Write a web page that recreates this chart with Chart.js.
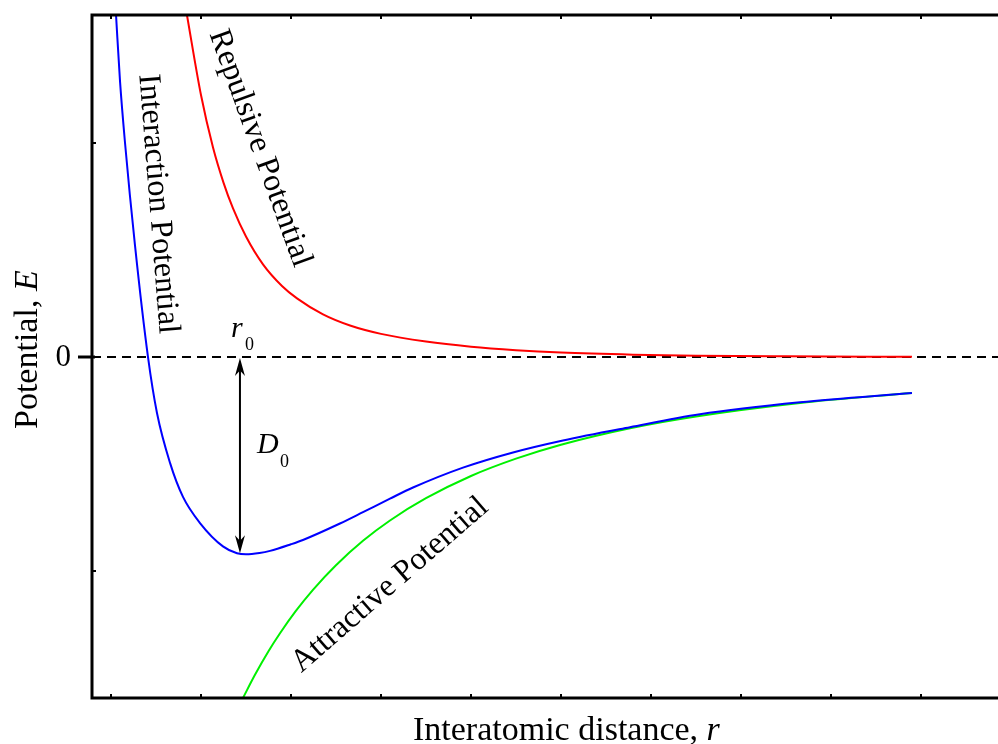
<!DOCTYPE html>
<html>
<head>
<meta charset="utf-8">
<title>Interatomic potential</title>
<script src="https://cdn.jsdelivr.net/npm/chart.js@4"></script>
<style>
  body { margin: 0; background: #fff; overflow: hidden; }
  #wrap { width: 998px; height: 744px; }
</style>
</head>
<body>
<div id="wrap"><canvas id="potentialChart"></canvas></div>
<script>
// distance r (tick units) and potential E (tick units)
const interactionR = [0.056, 0.1, 0.156, 0.267, 0.411, 0.511, 0.656, 0.8, 0.989, 1.244, 1.4, 1.5, 1.65, 1.767, 2.0, 2.133, 2.544, 2.8, 3.1, 3.356, 3.911, 4.467, 5.022, 5.767, 6.544, 7.656, 8.9];
const interactionE = [1.598, 1.29, 1.0, 0.52, 0, -0.262, -0.495, -0.654, -0.776, -0.885, -0.917, -0.922, -0.916, -0.906, -0.875, -0.855, -0.778, -0.725, -0.662, -0.61, -0.517, -0.446, -0.39, -0.328, -0.268, -0.212, -0.168];

const repulsiveR = [0.844, 1.0, 1.133, 1.25, 1.356, 1.5, 1.689, 1.9, 2.067, 2.356, 2.656, 3.0, 3.5, 4.0, 4.5, 5.0, 5.8, 6.5, 7.5, 8.9];
const repulsiveE = [1.598, 1.224, 0.98, 0.815, 0.694, 0.563, 0.433, 0.332, 0.274, 0.199, 0.147, 0.108, 0.072, 0.048, 0.032, 0.021, 0.011, 0.006, 0.003, 0.001];

const attractiveR = [1.467, 1.6, 1.75, 1.878, 2.05, 2.244, 2.5, 2.8, 3.1, 3.5, 4.0, 4.5, 5.0, 5.767, 6.5, 7.656, 8.9];
const attractiveE = [-1.593, -1.485, -1.375, -1.291, -1.189, -1.088, -0.973, -0.859, -0.764, -0.66, -0.556, -0.475, -0.41, -0.333, -0.278, -0.215, -0.168];

const zeroR = [-0.211, 9.856];
const zeroE = [0, 0];

const xTicks = [0, 1, 2, 3, 4, 5, 6, 7, 8, 9];
const yTicks = [-1, 0, 1];
const yTickLabels = ['', '0', ''];

// equilibrium spacing r0 where the D0 arrow sits
const r0 = 1.433;

const SERIF = '"Liberation Serif", "Times New Roman", serif';

function pts(xs, ys) {
  return xs.map((x, i) => ({ x: x, y: ys[i] }));
}

function arrowHead(ctx, x, y, dir) {
  // dir = 1 points down, -1 points up; tip at (x, y)
  const len = 18, half = 5;
  ctx.beginPath();
  ctx.moveTo(x, y);
  ctx.lineTo(x - half, y - dir * len);
  ctx.lineTo(x, y - dir * len * 0.7);
  ctx.lineTo(x + half, y - dir * len);
  ctx.closePath();
  ctx.fill();
}

const curveLabels = [
  { text: 'Interaction Potential', x: 0.522, y: 0.715, angle: 85.5 },
  { text: 'Repulsive Potential', x: 1.655, y: 0.975, angle: 70 },
  { text: 'Attractive Potential', x: 3.1, y: -1.065, angle: -41 }
];

const decorations = {
  id: 'decorations',
  afterDatasetsDraw(chart) {
    const ctx = chart.ctx;
    const xs = chart.scales.x, ys = chart.scales.y;
    const a = chart.chartArea;
    ctx.save();
    ctx.fillStyle = '#000';
    ctx.strokeStyle = '#000';

    // frame (right side falls outside the picture)
    ctx.lineWidth = 3;
    ctx.beginPath();
    ctx.moveTo(a.right + 2, a.top);
    ctx.lineTo(a.left, a.top);
    ctx.lineTo(a.left, a.bottom);
    ctx.lineTo(a.right + 2, a.bottom);
    ctx.stroke();

    // inside ticks
    ctx.lineWidth = 2;
    xTicks.forEach(t => {
      const px = Math.round(xs.getPixelForValue(t));
      ctx.beginPath();
      ctx.moveTo(px, a.bottom); ctx.lineTo(px, a.bottom - 4);
      ctx.moveTo(px, a.top); ctx.lineTo(px, a.top + 4);
      ctx.stroke();
    });
    yTicks.forEach((t, i) => {
      const py = Math.round(ys.getPixelForValue(t));
      ctx.beginPath();
      if (yTickLabels[i]) {
        ctx.lineWidth = 3;
        ctx.moveTo(a.left - 14, py); ctx.lineTo(a.left + 3, py);
      } else {
        ctx.lineWidth = 2;
        ctx.moveTo(a.left, py); ctx.lineTo(a.left + 4, py);
      }
      ctx.stroke();
      if (yTickLabels[i]) {
        ctx.font = '31px ' + SERIF;
        ctx.textAlign = 'right';
        ctx.textBaseline = 'middle';
        ctx.fillText(yTickLabels[i], a.left - 21, py + 1);
      }
    });

    // D0 arrow from E = 0 down to the bottom of the well
    const well = Math.min(...interactionE);
    const ax = xs.getPixelForValue(r0);
    const yTop = ys.getPixelForValue(0);
    const yBot = ys.getPixelForValue(well);
    ctx.lineWidth = 2;
    ctx.beginPath();
    ctx.moveTo(ax, yTop + 6); ctx.lineTo(ax, yBot - 6);
    ctx.stroke();
    arrowHead(ctx, ax, yTop + 1, -1);
    arrowHead(ctx, ax, yBot - 1, 1);

    // r0 and D0 labels
    ctx.textAlign = 'left';
    ctx.textBaseline = 'alphabetic';
    ctx.font = 'italic 30px ' + SERIF;
    ctx.fillText('r', ax - 9, yTop - 20);
    ctx.font = '18px ' + SERIF;
    ctx.fillText('0', ax + 5, yTop - 7);
    ctx.font = 'italic 30px ' + SERIF;
    ctx.fillText('D', ax + 17, yTop + 96);
    ctx.font = '18px ' + SERIF;
    ctx.fillText('0', ax + 40, yTop + 110);

    // curve labels
    ctx.font = '32px ' + SERIF;
    ctx.textAlign = 'center';
    ctx.textBaseline = 'middle';
    curveLabels.forEach(l => {
      ctx.save();
      ctx.translate(xs.getPixelForValue(l.x), ys.getPixelForValue(l.y));
      ctx.rotate(l.angle * Math.PI / 180);
      ctx.fillText(l.text, 0, 0);
      ctx.restore();
    });

    // axis titles with italic symbols
    ctx.textAlign = 'left';
    ctx.textBaseline = 'alphabetic';
    ctx.font = '34px ' + SERIF;
    const xt = 'Interatomic distance, ';
    ctx.fillText(xt, 413, 740);
    const w = ctx.measureText(xt).width;
    ctx.font = 'italic 34px ' + SERIF;
    ctx.fillText('r', 413 + w, 740);

    ctx.save();
    ctx.translate(37, 429);
    ctx.rotate(-Math.PI / 2);
    ctx.font = '34px ' + SERIF;
    const yt = 'Potential, ';
    ctx.fillText(yt, 0, 0);
    const w2 = ctx.measureText(yt).width;
    ctx.font = 'italic 34px ' + SERIF;
    ctx.fillText('E', w2, 0);
    ctx.restore();

    ctx.restore();
  }
};

const line = (data, color, extra) => Object.assign({
  data: data,
  borderColor: color,
  borderWidth: 2,
  pointRadius: 0,
  showLine: true,
  fill: false,
  cubicInterpolationMode: 'monotone'
}, extra || {});

const potentialChart = new Chart(document.getElementById('potentialChart'), {
  type: 'scatter',
  data: {
    datasets: [
      line(pts(interactionR, interactionE), '#0000ff'),
      line(pts(attractiveR, attractiveE), '#00f000'),
      line(pts(repulsiveR, repulsiveE), '#ff0000'),
      line(pts(zeroR, zeroE), '#000000', { borderDash: [9, 6], cubicInterpolationMode: 'default' })
    ]
  },
  options: {
    responsive: true,
    maintainAspectRatio: false,
    animation: false,
    layout: { padding: { left: 92, top: 15, right: 0, bottom: 46 } },
    plugins: {
      legend: { display: false },
      tooltip: { enabled: false }
    },
    scales: {
      x: {
        type: 'linear',
        min: -0.211,
        max: 9.856,
        ticks: { display: false },
        grid: { display: false, drawTicks: false },
        border: { display: false }
      },
      y: {
        type: 'linear',
        min: -1.5935,
        max: 1.598,
        ticks: { display: false },
        grid: { display: false, drawTicks: false },
        border: { display: false }
      }
    }
  },
  plugins: [decorations]
});
</script>
</body>
</html>
